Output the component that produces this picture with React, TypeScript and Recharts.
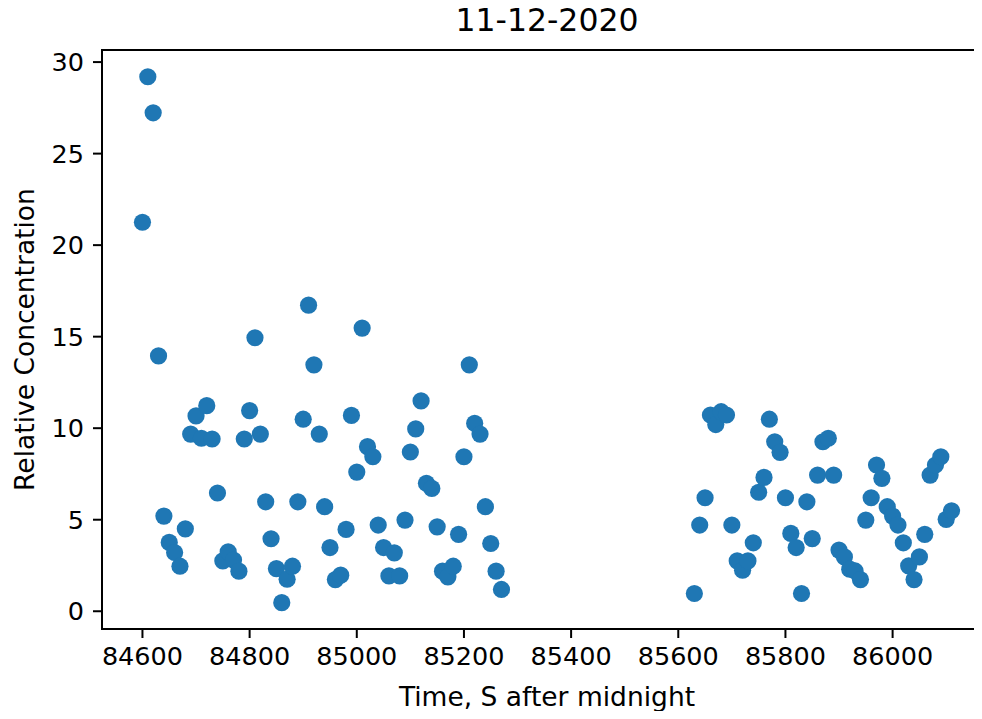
import { ScatterChart, Scatter, XAxis, YAxis, ReferenceArea } from 'recharts'

// seconds after midnight, sampled every 10 s
const timesA = [
  84600, 84610, 84620, 84630, 84640, 84650, 84660, 84670, 84680, 84690,
  84700, 84710, 84720, 84730, 84740, 84750, 84760, 84770, 84780, 84790,
  84800, 84810, 84820, 84830, 84840, 84850, 84860, 84870, 84880, 84890,
  84900, 84910, 84920, 84930, 84940, 84950, 84960, 84970, 84980, 84990,
  85000, 85010, 85020, 85030, 85040, 85050, 85060, 85070, 85080, 85090,
  85100, 85110, 85120, 85130, 85140, 85150, 85160, 85170, 85180, 85190,
  85200, 85210, 85220, 85230, 85240, 85250, 85260, 85270,
]
const concA = [
  21.25, 29.2, 27.23, 13.95, 5.2, 3.76, 3.21, 2.46, 4.5, 9.68,
  10.67, 9.45, 11.23, 9.41, 6.46, 2.75, 3.25, 2.8, 2.19, 9.41,
  10.96, 14.94, 9.68, 5.98, 3.96, 2.33, 0.47, 1.75, 2.46, 5.98,
  10.49, 16.72, 13.46, 9.68, 5.71, 3.48, 1.73, 1.97, 4.47, 10.7,
  7.6, 15.47, 8.99, 8.44, 4.71, 3.48, 1.93, 3.19, 1.93, 4.98,
  8.7, 9.96, 11.49, 6.99, 6.71, 4.61, 2.19, 1.88, 2.46, 4.2,
  8.44, 13.46, 10.27, 9.68, 5.71, 3.7, 2.19, 1.19,
]
const timesB = [
  85630, 85640, 85650, 85660, 85670, 85680, 85690, 85700, 85710, 85720,
  85730, 85740, 85750, 85760, 85770, 85780, 85790, 85800, 85810, 85820,
  85830, 85840, 85850, 85860, 85870, 85880, 85890, 85900, 85910, 85920,
  85930, 85940, 85950, 85960, 85970, 85980, 85990, 86000, 86010, 86020,
  86030, 86040, 86050, 86060, 86070, 86080, 86090, 86100, 86110,
]
const concB = [
  0.97, 4.71, 6.2, 10.72, 10.2, 10.9, 10.72, 4.71, 2.75, 2.24,
  2.75, 3.74, 6.5, 7.31, 10.49, 9.26, 8.68, 6.2, 4.25, 3.48,
  0.97, 5.98, 3.97, 7.44, 9.26, 9.45, 7.44, 3.34, 2.97, 2.3,
  2.2, 1.73, 4.98, 6.2, 7.99, 7.26, 5.71, 5.2, 4.71, 3.74,
  2.48, 1.73, 2.97, 4.2, 7.44, 7.99, 8.44, 5.02, 5.49,
]
const xTicks = [84600, 84800, 85000, 85200, 85400, 85600, 85800, 86000]
const yTicks = [0, 5, 10, 15, 20, 25, 30]

const points = [
  ...timesA.map((t, i) => ({ x: t, y: concA[i] })),
  ...timesB.map((t, i) => ({ x: t, y: concB[i] })),
]

const font = 'DejaVu Sans, sans-serif'
const xDomain: [number, number] = [84524.5, 86185.5]
const yDomain: [number, number] = [-0.97, 30.66]

const Dot = (props: any) => <circle cx={props.cx} cy={props.cy} r={8.6} fill="#1f77b4" />

const YLabel = (props: any) => {
  const cy = props.viewBox.y + props.viewBox.height / 2
  return (
    <text x={34} y={cy} transform={`rotate(-90, 34, ${cy})`} textAnchor="middle" fontSize={26.5} fontFamily={font} fill="#000">
      Relative Concentration
    </text>
  )
}

const XLabel = () => (
  <text x={547} y={706} textAnchor="middle" fontSize={26.5} fontFamily={font} fill="#000">
    Time, S after midnight
  </text>
)

export default function App() {
  return (
    <div style={{ margin: -8, width: 982, height: 719, overflow: 'hidden', position: 'relative', background: '#fff' }}>
      <div style={{ position: 'absolute', top: 5, left: 347, width: 400, textAlign: 'center', fontSize: 31.5, lineHeight: '31px', fontFamily: font, color: '#000' }}>
        11-12-2020
      </div>
      <ScatterChart width={1002} height={719} margin={{ top: 50, right: 10, bottom: 0, left: 0 }}>
        <XAxis
          type="number"
          dataKey="x"
          domain={xDomain}
          ticks={xTicks}
          allowDataOverflow
          height={90}
          tickSize={9}
          tickMargin={9}
          tick={{ fontSize: 25.5, fontFamily: font, fill: '#000' }}
          tickLine={{ stroke: '#000', strokeWidth: 2 }}
          axisLine={{ stroke: '#000', strokeWidth: 2 }}
          label={<XLabel />}
        />
        <YAxis
          type="number"
          dataKey="y"
          domain={yDomain}
          ticks={yTicks}
          allowDataOverflow
          width={102}
          tickSize={9}
          tickMargin={9}
          tick={{ fontSize: 25.5, fontFamily: font, fill: '#000' }}
          tickLine={{ stroke: '#000', strokeWidth: 2 }}
          axisLine={{ stroke: '#000', strokeWidth: 2 }}
          label={<YLabel />}
        />
        <ReferenceArea x1={xDomain[0]} x2={xDomain[1]} y1={yDomain[0]} y2={yDomain[1]} fill="none" stroke="#000" strokeWidth={2} fillOpacity={0} />
        <Scatter data={points} shape={Dot} isAnimationActive={false} />
      </ScatterChart>
    </div>
  )
}
